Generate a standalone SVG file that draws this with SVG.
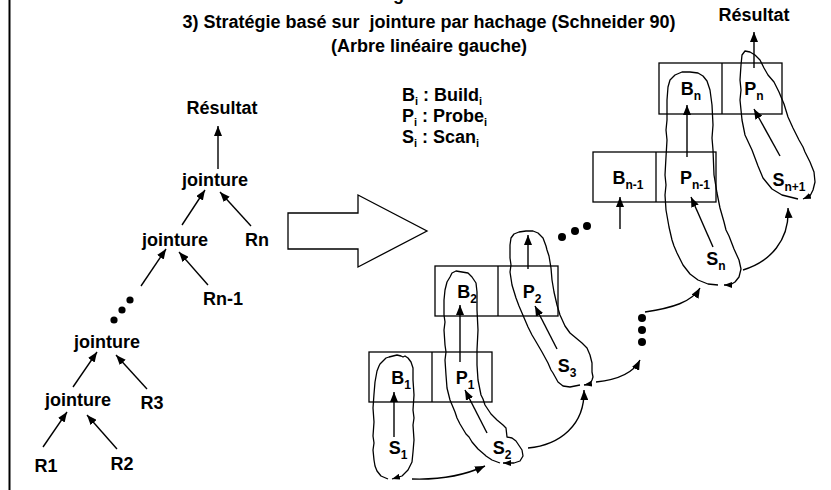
<svg xmlns="http://www.w3.org/2000/svg" width="831" height="490" viewBox="0 0 831 490">
<defs>
<style>
text{font-family:"Liberation Sans",Arial,Helvetica,sans-serif;font-weight:bold;font-size:18px;fill:#000}
.c{text-anchor:middle}
.sub{font-size:12px}
.lsub{font-size:11px}
.arr{stroke:#000;stroke-width:1.4;fill:none;marker-end:url(#ah)}
.blob{stroke:#000;stroke-width:1.3;fill:none;stroke-linejoin:round;marker-end:url(#bh)}
.box{fill:none;stroke:#000;stroke-width:1.3}
.dot{fill:#000}
</style>
<marker id="ah" viewBox="0 0 10 8" refX="10" refY="4" markerWidth="10" markerHeight="8" markerUnits="userSpaceOnUse" orient="auto"><path d="M0,0 L10,4 L0,8 z" fill="#000"/></marker>
<marker id="bh" viewBox="0 0 8 6" refX="8" refY="3" markerWidth="8" markerHeight="6" markerUnits="userSpaceOnUse" orient="auto"><path d="M0,0 L8,3 L0,6 z" fill="#000"/></marker>
</defs>
<rect width="831" height="490" fill="#fff"/>
<line x1="9.5" y1="0" x2="9.5" y2="490" stroke="#000" stroke-width="2"/>

<g id="title">
<text x="393" y="0">g</text>
<text class="c" x="429" y="28" xml:space="preserve" style="white-space:pre">3) Stratégie basé sur  jointure par hachage (Schneider 90)</text>
<text class="c" x="429" y="52">(Arbre linéaire gauche)</text>
</g>

<g id="legend">
<text x="402" y="101">B<tspan class="lsub" dy="4">i</tspan><tspan dy="-4"> : Build</tspan><tspan class="lsub" dy="4">i</tspan></text>
<text x="402" y="122">P<tspan class="lsub" dy="4">i</tspan><tspan dy="-4"> : Probe</tspan><tspan class="lsub" dy="4">i</tspan></text>
<text x="402" y="143">S<tspan class="lsub" dy="4">i</tspan><tspan dy="-4"> : Scan</tspan><tspan class="lsub" dy="4">i</tspan></text>
</g>

<!-- left tree -->
<g id="t-resultat"><text class="c" x="222" y="114">Résultat</text></g>
<g id="t-j1"><text class="c" x="215" y="186">jointure</text></g>
<g id="t-j2"><text class="c" x="175" y="246">jointure</text></g>
<g id="t-rn"><text class="c" x="257" y="246">Rn</text></g>
<g id="t-rn1"><text class="c" x="223" y="305">Rn-1</text></g>
<g id="t-j3"><text class="c" x="107" y="348">jointure</text></g>
<g id="t-j4"><text class="c" x="78" y="406">jointure</text></g>
<g id="t-r3"><text class="c" x="152" y="409">R3</text></g>
<g id="t-r1"><text class="c" x="46" y="472">R1</text></g>
<g id="t-r2"><text class="c" x="122" y="470">R2</text></g>
<g id="t-dots">
<circle class="dot" cx="130" cy="300" r="3.6"/>
<circle class="dot" cx="122" cy="310" r="3.6"/>
<circle class="dot" cx="114" cy="320" r="3.6"/>
</g>

<g id="bigarrow">
<polygon points="288,213 358,213 358,195 427,231 358,267 358,249 288,249" fill="#fff" stroke="#000" stroke-width="1.3"/>
</g>

<!-- right side -->
<g id="box1">
<rect class="box" x="369" y="352" width="123" height="50"/>
<line class="box" x1="432" y1="352" x2="432" y2="402"/>
<text class="c" x="401" y="383.5">B<tspan class="sub" dy="5">1</tspan></text>
<text class="c" x="465" y="383.5">P<tspan class="sub" dy="5">1</tspan></text>
</g>
<g id="box2">
<rect class="box" x="435" y="266" width="123" height="50"/>
<line class="box" x1="498" y1="266" x2="498" y2="316"/>
<text class="c" x="467" y="298">B<tspan class="sub" dy="5">2</tspan></text>
<text class="c" x="532" y="298">P<tspan class="sub" dy="5">2</tspan></text>
</g>
<g id="boxn1">
<rect class="box" x="593" y="152" width="123" height="50"/>
<line class="box" x1="656" y1="152" x2="656" y2="202"/>
<text class="c" x="628" y="183.5">B<tspan class="sub" dy="5">n-1</tspan></text>
<text class="c" x="695" y="183.5">P<tspan class="sub" dy="5">n-1</tspan></text>
</g>
<g id="boxn">
<rect class="box" x="659" y="63" width="123" height="51"/>
<line class="box" x1="722" y1="63" x2="722" y2="114"/>
<text class="c" x="691" y="95">B<tspan class="sub" dy="5">n</tspan></text>
<text class="c" x="754" y="95">P<tspan class="sub" dy="5">n</tspan></text>
</g>
<g id="scans">
<text class="c" x="398" y="454">S<tspan class="sub" dy="5">1</tspan></text>
<text class="c" x="502" y="454">S<tspan class="sub" dy="5">2</tspan></text>
<text class="c" x="567" y="372">S<tspan class="sub" dy="5">3</tspan></text>
<text class="c" x="716" y="265">S<tspan class="sub" dy="5">n</tspan></text>
<text class="c" x="789" y="186">S<tspan class="sub" dy="5">n+1</tspan></text>
</g>
<g id="r-dots">
<circle class="dot" cx="562" cy="237" r="4"/>
<circle class="dot" cx="575" cy="231" r="4"/>
<circle class="dot" cx="587" cy="226" r="4"/>
<circle class="dot" cx="642" cy="318" r="4"/>
<circle class="dot" cx="642" cy="330" r="4"/>
<circle class="dot" cx="642" cy="342" r="4"/>
</g>

<g id="blobs">
<path class="blob" d="M388,479 L381,476 L377,471 L375,466 L374,460 L373,450 L374,443 L373,436 L374,422 L373,408 L374,394 L375,382 L377,371 L379,366 L380,364 L384,360 L386,358 L389,357 L393,356 L397,355 L401,356 L403,357 L405,356 L408,358 L411,362 L412,365 L413,368 L413,380 L414,395 L413,410 L414,418 L413,425 L414,440 L413,452 L412,462 L409,468 L408,470 L402,476 L392,479"/>
<path class="blob" d="M500,463 L492,460 L486,456 L485,455 L478,449 L472,442 L469,437 L466,434 L460,424 L457,418 L455,412 L450,400 L447,388 L446,375 L445,360 L446,352 L445,345 L444,330 L445,322 L444,315 L444,300 L445,290 L447,282 L450,277 L452,273 L456,271 L462,272 L468,273 L472,277 L476,283 L477,292 L477,310 L478,330 L477,350 L477,365 L478,380 L481,395 L483,399 L485,405 L491,414 L497,420 L503,425 L506,428 L507,437 L512,438 L516,441 L518,444 L522,450 L523,456 L520,461 L514,463 L503,463"/>
<path class="blob" d="M580,385 L570,387 L563,386 L558,382 L553,373 L551,370 L548,363 L542,352 L535,340 L532,335 L528,327 L522,313 L519,306 L516,298 L512,285 L510,272 L511,265 L510,258 L510,245 L511,238 L514,234 L519,232 L526,231 L533,231 L538,233 L543,238 L546,246 L547,250 L549,256 L551,268 L552,280 L554,292 L557,305 L560,315 L565,326 L570,333 L576,338 L582,343 L587,348 L590,355 L592,363 L592,372 L593,377 L592,380 L590,384 L584,385"/>
<path class="blob" d="M718,285 L708,284 L698,280 L690,274 L683,265 L677,253 L674,246 L672,240 L669,227 L666,210 L665,195 L666,185 L665,175 L666,157 L667,140 L666,130 L667,120 L667,100 L668,87 L670,80 L675,75 L682,72 L690,72 L698,73 L703,76 L707,81 L710,90 L712,105 L713,125 L712,138 L713,150 L714,175 L717,193 L720,208 L724,222 L726,230 L729,236 L734,249 L739,260 L741,269 L739,277 L735,282 L730,285 L724,285"/>
<path class="blob" d="M798,199 L790,197 L782,195 L772,189 L763,178 L758,166 L755,158 L752,150 L745,135 L742,120 L740,100 L741,90 L740,80 L741,65 L742,55 L745,51 L750,52 L755,55 L760,60 L764,68 L768,75 L774,82 L779,92 L784,104 L788,117 L793,128 L799,140 L803,147 L805,152 L810,162 L814,172 L815,182 L813,190 L810,196 L803,199"/>
</g>

<g id="connectors">
<!-- tree -->
<line class="arr" x1="218" y1="169" x2="218" y2="126"/>
<line class="arr" x1="182" y1="225" x2="205" y2="190"/>
<line class="arr" x1="251" y1="226" x2="220" y2="192"/>
<line class="arr" x1="141" y1="286" x2="166" y2="249"/>
<line class="arr" x1="208" y1="285" x2="179" y2="252"/>
<line class="arr" x1="73" y1="387" x2="97" y2="352"/>
<line class="arr" x1="147" y1="389" x2="116" y2="355"/>
<line class="arr" x1="43" y1="447" x2="67" y2="412"/>
<line class="arr" x1="117" y1="449" x2="87" y2="415"/>
<!-- pipeline straight -->
<line class="arr" x1="394" y1="437" x2="394" y2="392"/>
<line class="arr" x1="487" y1="433" x2="465" y2="390"/>
<line class="arr" x1="460" y1="362" x2="460" y2="305"/>
<line class="arr" x1="557" y1="349" x2="535" y2="306"/>
<line class="arr" x1="528" y1="269" x2="528" y2="235"/>
<line class="arr" x1="620" y1="229" x2="620" y2="197"/>
<line class="arr" x1="687" y1="157" x2="687" y2="105"/>
<line class="arr" x1="713" y1="247" x2="691" y2="197"/>
<line class="arr" x1="780" y1="156" x2="754" y2="109"/>
<line class="arr" x1="754" y1="68" x2="754" y2="32"/>
<!-- curved -->
<path class="arr" d="M412,479 C440,480 465,475 485,466"/>
<path class="arr" d="M528,448 C560,445 585,425 584,390"/>
<path class="arr" d="M596,382 C615,380 633,374 640,360"/>
<path class="arr" d="M645,312 C672,308 692,302 700,288"/>
<path class="arr" d="M743,270 C770,262 790,240 788,208"/>
</g>
<g id="r-resultat"><text class="c" x="754" y="21">Résultat</text></g>
</svg>
